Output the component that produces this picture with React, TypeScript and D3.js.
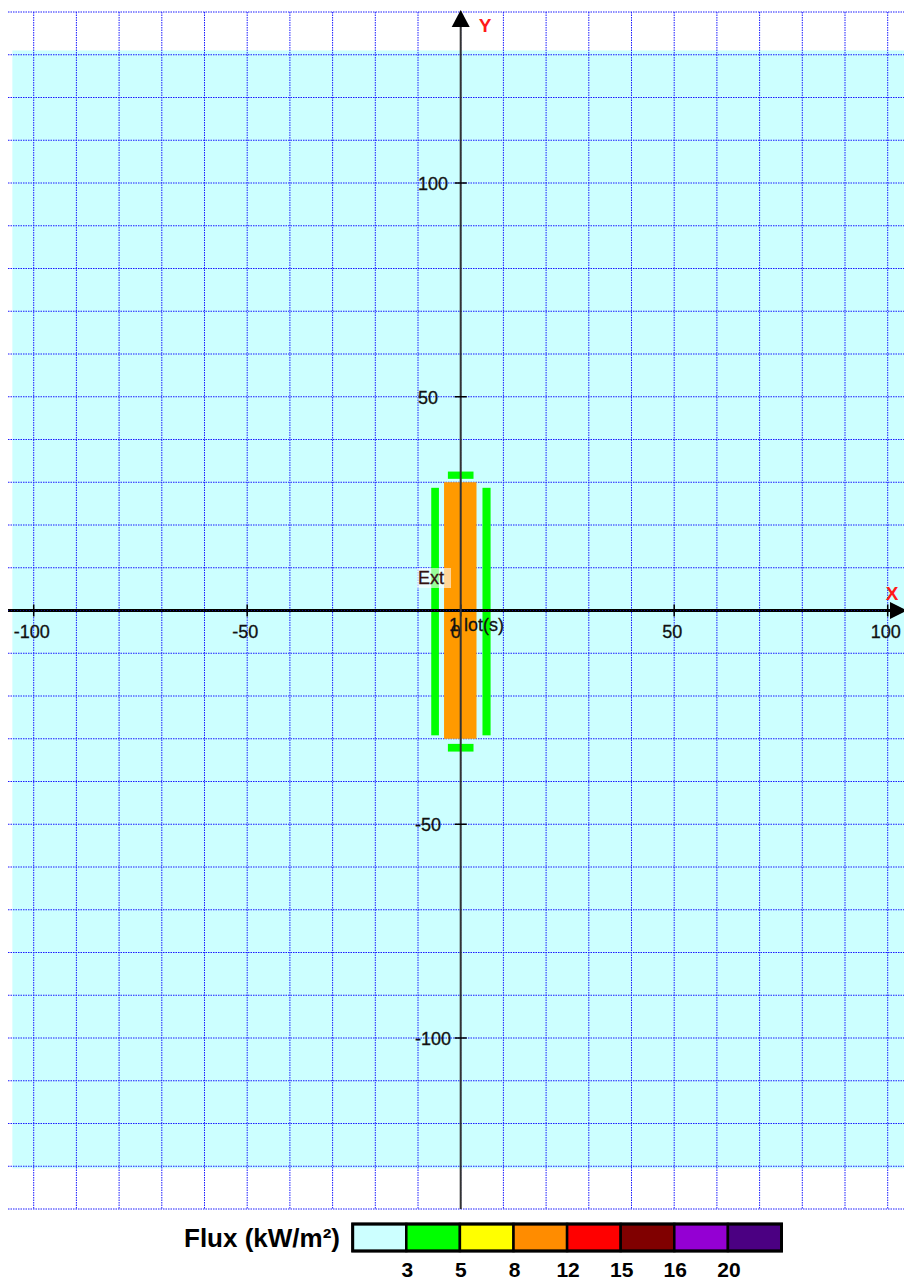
import React from "react";
import * as d3 from "d3";

const xGrid = d3.range(-100, 101, 10);
const yGrid = d3.range(-140, 141, 10);
const xTickValues = [-100, -50, 0, 50, 100];
const yTickValues = [100, 50, -50, -100];

const fluxThresholds = ["3", "5", "8", "12", "15", "16", "20"];
const fluxColors = ["#ccffff", "#00ff00", "#ffff00", "#ff8c00", "#ff0000", "#800000", "#9400d3", "#4b0082"];

// zones: [x0, x1, y0, y1, colorIndex]
const zoneX0 = [-3.9, -6.9, 5.1, -3, -3];
const zoneX1 = [3.7, -5.1, 7.0, 3, 3];
const zoneY0 = [-30, -29.2, -29.2, 30.8, -33];
const zoneY1 = [30, 28.7, 28.7, 32.5, -31.2];
const zoneLevel = [3, 1, 1, 1, 1];

const W = 904;
const H = 1282;

export default function App() {
  const x = d3.scaleLinear().domain([-100, 100]).range([33.7, 887.7]);
  const y = d3.scaleLinear().domain([-140, 140]).range([1209, 12]);
  const font = "'Liberation Sans', Arial, sans-serif";
  const grid = "#1a1aff";
  const x0 = x(0);
  const y0 = y(0);

  const legX = 352.7;
  const legW = 53.6;
  const legY = 1224;
  const legH = 27;

  return (
    <svg
      width={W}
      height={H}
      style={{ position: "absolute", left: 0, top: 0, background: "#ffffff" }}
    >
      {/* background zone */}
      <rect x={x(-105)} y={y(131)} width={W - x(-105)} height={y(-130.5) - y(131)} fill={fluxColors[0]} />
      {/* grid */}
      {yGrid.map((v) => (
        <line key={"h" + v} x1={8} x2={W} y1={y(v)} y2={y(v)} stroke={grid} strokeWidth={1} strokeDasharray="1.5,1" />
      ))}
      {xGrid.map((v) => (
        <line key={"v" + v} x1={x(v)} x2={x(v)} y1={y(140)} y2={y(-140)} stroke={grid} strokeWidth={1} strokeDasharray="1.5,1" />
      ))}
      {/* zones */}
      {zoneX0.map((_, i) => (
        <rect
          key={"z" + i}
          x={x(zoneX0[i])}
          y={y(zoneY1[i])}
          width={x(zoneX1[i]) - x(zoneX0[i])}
          height={y(zoneY0[i]) - y(zoneY1[i])}
          fill={zoneLevel[i] === 3 ? "#ff9a00" : fluxColors[zoneLevel[i]]}
        />
      ))}
      {/* x axis */}
      <line x1={8} x2={W - 12} y1={y0} y2={y0} stroke="#000" strokeWidth={3} />
      <line x1={8} x2={W - 12} y1={y0} y2={y0} stroke={grid} strokeWidth={1} strokeDasharray="1,2" opacity={0.5} />
      <path d={`M${W - 14},${y0 - 8.5} L${W + 3},${y0} L${W - 14},${y0 + 8.5} Z`} fill="#000" />
      <text x={892} y={600} fill="#ff1a1a" fontFamily={font} fontSize={19} fontWeight="bold" textAnchor="middle">X</text>
      {xTickValues.map((v) => (
        <g key={"xt" + v}>
          <line x1={x(v)} x2={x(v)} y1={y0 - 6} y2={y0 + 6} stroke="#000" strokeWidth={1.5} />
          <text
            x={x(v) - (v === 0 ? 5 : 2)}
            y={y0 + 27}
            fill="#111"
            stroke="#111"
            strokeWidth={0.3}
            fontFamily={font}
            fontSize={18}
            textAnchor="middle"
          >
            {v}
          </text>
        </g>
      ))}
      {/* y axis */}
      <line x1={x0} x2={x0} y1={25} y2={y(-140)} stroke="#333" strokeWidth={2} />
      <path d={`M${x0 - 9},${27} L${x0},${10} L${x0 + 9},${27} Z`} fill="#000" />
      <text x={485} y={32} fill="#ff1a1a" fontFamily={font} fontSize={19} fontWeight="bold" textAnchor="middle">Y</text>
      {yTickValues.map((v) => (
        <g key={"yt" + v}>
          <line x1={x0 - 6} x2={x0 + 6} y1={y(v)} y2={y(v)} stroke="#000" strokeWidth={1.5} />
          <text
            x={v < 0 ? 415 : 418}
            y={y(v) + 7}
            fill="#111"
            stroke="#111"
            strokeWidth={0.3}
            fontFamily={font}
            fontSize={18}
          >
            {v}
          </text>
        </g>
      ))}
      {/* labels */}
      <rect x={417} y={568} width={34} height={20} fill="#ffffff" opacity={0.6} />
      <text x={418} y={584} fill="#331111" stroke="#331111" strokeWidth={0.3} fontFamily={font} fontSize={18}>Ext</text>
      <text x={449} y={631} fill="#111" stroke="#111" strokeWidth={0.3} fontFamily={font} fontSize={18}>1 lot(s)</text>
      {/* legend */}
      <text x={340} y={legY + legH / 2 + 9} fontFamily={font} fontSize={26} fontWeight="bold" textAnchor="end" fill="#000">
        Flux (kW/m²)
      </text>
      {fluxColors.map((c, i) => (
        <rect key={"lg" + i} x={legX + i * legW} y={legY} width={legW} height={legH} fill={c} stroke="#000" strokeWidth={2.5} />
      ))}
      <rect x={legX} y={legY} width={legW * fluxColors.length} height={legH} fill="none" stroke="#000" strokeWidth={3} />
      {fluxThresholds.map((t, i) => (
        <text key={"lt" + t} x={legX + (i + 1) * legW + 1} y={1277} fontFamily={font} fontSize={21} fontWeight="bold" textAnchor="middle" fill="#000">
          {t}
        </text>
      ))}
    </svg>
  );
}
